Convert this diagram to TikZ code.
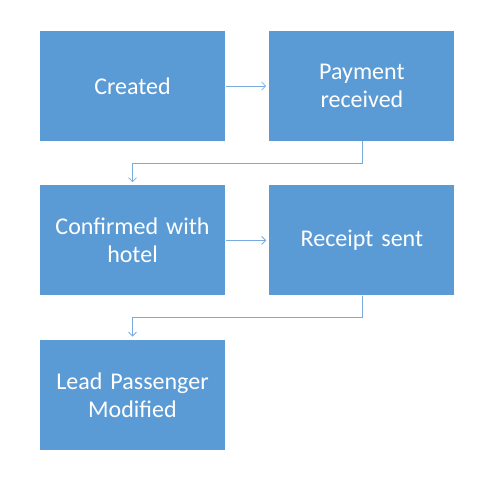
\documentclass[tikz,border=0pt]{standalone}
\usepackage{fontspec}
\setmainfont[WordSpace=0.8]{Carlito}
\usetikzlibrary{positioning, arrows.meta}
\definecolor{boxblue}{RGB}{91,155,213}
\definecolor{lineblue}{RGB}{120,172,222}
\tikzstyle{status} = [
  rectangle,
  minimum width=185pt,
  minimum height=110pt,
  text width=170pt,
  align=center,
  fill=boxblue,
  text=white,
  font=\fontsize{24pt}{28pt}\selectfont
]
\tikzstyle{arrow} = [draw=lineblue,line width=0.8pt,->,>={Straight Barb[length=4pt,width=8pt]}]

\begin{document}
\begin{tikzpicture}[node distance=44pt and 44pt]
    \useasboundingbox (0,0) rectangle (483pt,-488pt);

    % Estados de la reserva
    \node (created) [status] at (132.5pt,-86pt) {Created};
    \node (payment) [status, right=of created] {Payment\\received};
    \node (confirmed) [status, below=of created] {Confirmed with\\hotel};
    \node (receipt) [status, right=of confirmed] {Receipt sent};
    \node (lead) [status, below=of confirmed] {Lead Passenger\\Modified};

    % Flechas
    \draw [arrow, shorten <=1pt, shorten >=3pt] (created) -- (payment);
    \draw [arrow, shorten >=3pt] (payment.south) -- ++(0,-22pt) -| (confirmed.north);
    \draw [arrow, shorten <=1pt, shorten >=3pt] (confirmed) -- (receipt);
    \draw [arrow, shorten >=3pt] (receipt.south) -- ++(0,-22pt) -| (lead.north);

\end{tikzpicture}
\end{document}
